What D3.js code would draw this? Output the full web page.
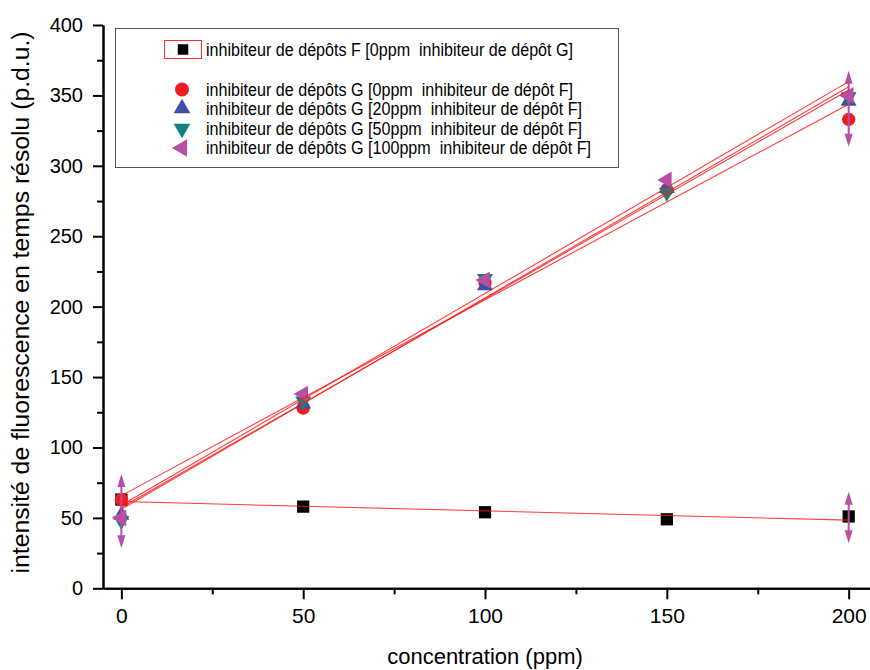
<!DOCTYPE html>
<html><head><meta charset="utf-8">
<script src="https://cdn.jsdelivr.net/npm/d3@7"></script>
<style>body{margin:0;background:#fff} text{font-family:Arial,"Liberation Sans",sans-serif;fill:#000}</style>
</head><body><svg id="c" width="870" height="670"></svg>
<script>
// ---- data ----
const concentrations = [0, 50, 100, 150, 200];
const fValues   = [63, 58, 54, 49, 51];
const g0Values  = [63, 128, 217, 283, 333];
const g20Values = [52, 131, 215, 284, 346];
const g50Values = [48, 133, 220, 281, 349];
const g100Values= [50, 138, 219, 290, 350];
const seriesLabels = [
  "inhibiteur de dépôts F [0ppm  inhibiteur de dépôt G]",
  "inhibiteur de dépôts G [0ppm  inhibiteur de dépôt F]",
  "inhibiteur de dépôts G [20ppm  inhibiteur de dépôt F]",
  "inhibiteur de dépôts G [50ppm  inhibiteur de dépôt F]",
  "inhibiteur de dépôts G [100ppm  inhibiteur de dépôt F]"
];
const errX    = [0, 200, 200];
const errMid  = [54.8, 340.5, 50.3];
const errHalf = [26.4, 27, 18.3];
const xMajorTicks = [0, 50, 100, 150, 200];
const xMinorTicks = [25, 75, 125, 175];
const yMajorTicks = [0, 50, 100, 150, 200, 250, 300, 350, 400];
const yMinorTicks = [25, 75, 125, 175, 225, 275, 325, 375];
const xTitle = "concentration (ppm)";
const yTitle = "intensité de fluorescence en temps résolu (p.d.u.)";

const series = [
  {vals: fValues,   color: "#000000", shape: "square"},
  {vals: g0Values,  color: "#ee1d23", shape: "circle"},
  {vals: g20Values, color: "#3c4fa3", shape: "up"},
  {vals: g50Values, color: "#12807c", shape: "down"},
  {vals: g100Values,color: "#b84fa6", shape: "left"}
];

const svg = d3.select("#c");
const x = d3.scaleLinear().domain([-5.05, 210]).range([103, 103 + 215.05 * 3.6365]);
const y = d3.scaleLinear().domain([0, 400]).range([588.3, 25]);

// axes
const xAxis = svg.append("g").attr("transform", `translate(0,${y(0)})`)
  .call(d3.axisBottom(x).tickValues(xMajorTicks).tickSize(11).tickSizeOuter(0).tickPadding(9).tickFormat(d3.format("d")));
svg.append("g").attr("transform", `translate(0,${y(0)})`)
  .call(d3.axisBottom(x).tickValues(xMinorTicks).tickSize(6).tickSizeOuter(0).tickFormat(""));
const yAxis = svg.append("g").attr("transform", `translate(${x(-5.05)},0)`)
  .call(d3.axisLeft(y).tickValues(yMajorTicks).tickSize(10).tickSizeOuter(0).tickPadding(10).tickFormat(d3.format("d")));
svg.append("g").attr("transform", `translate(${x(-5.05)},0)`)
  .call(d3.axisLeft(y).tickValues(yMinorTicks).tickSize(6).tickSizeOuter(0).tickFormat(""));
svg.selectAll(".domain, .tick line").attr("stroke", "#000").attr("stroke-width", 2);
xAxis.selectAll(".tick text").style("font-size", "21px");
yAxis.selectAll(".tick text").style("font-size", "20px");

svg.append("text").attr("x", x(100)).attr("y", 664).attr("text-anchor", "middle")
  .style("font-size", "22px").text(xTitle);
svg.append("text").attr("transform", `translate(29,${y(203)}) rotate(-90)`).attr("text-anchor", "middle")
  .attr("textLength", 542).attr("lengthAdjust", "spacingAndGlyphs")
  .style("font-size", "23px").text(yTitle);

// symbols
function symPath(shape, size) {
  if (shape === "square") return d3.symbol(d3.symbolSquare, size)();
  if (shape === "circle") return d3.symbol(d3.symbolCircle, size)();
  return d3.symbol(d3.symbolTriangle, size)();
}
function symRot(shape) { return shape === "down" ? 180 : shape === "left" ? -90 : 0; }
const sizes = {square: 150, circle: 140, up: 110, down: 110, left: 120};

series.forEach(s => {
  svg.append("g").selectAll("path").data(s.vals).join("path")
    .attr("d", symPath(s.shape, sizes[s.shape]))
    .attr("transform", (v, i) => `translate(${x(concentrations[i])},${y(v)}) rotate(${symRot(s.shape)})`)
    .attr("fill", s.color);
});

// error bars (magenta, arrow caps)
const eg = svg.append("g").attr("fill", "#b84fa6").attr("stroke", "#b84fa6");
errX.forEach((xv, i) => {
  const cx = x(xv), yt = y(errMid[i] + errHalf[i]), yb = y(errMid[i] - errHalf[i]);
  eg.append("line").attr("x1", cx).attr("x2", cx).attr("y1", yt + 4).attr("y2", yb - 4).attr("stroke-width", 2);
  eg.append("path").attr("stroke", "none").attr("d", `M${cx},${yt} L${cx - 4},${yt + 13} L${cx + 4},${yt + 13}Z`);
  eg.append("path").attr("stroke", "none").attr("d", `M${cx},${yb} L${cx - 4},${yb - 13} L${cx + 4},${yb - 13}Z`);
});

// linear fits
function fit(vals) {
  const mx = d3.mean(concentrations), my = d3.mean(vals);
  const b = d3.sum(concentrations, (c, i) => (c - mx) * (vals[i] - my)) / d3.sum(concentrations, c => (c - mx) ** 2);
  return {b, a: my - b * mx};
}
series.forEach(s => {
  const f = fit(s.vals);
  svg.append("line")
    .attr("x1", x(0)).attr("y1", y(f.a))
    .attr("x2", x(200)).attr("y2", y(f.a + f.b * 200))
    .attr("stroke", "#ff1a1a").attr("stroke-opacity", 0.85).attr("stroke-width", 1.1);
});

// legend
const lg = svg.append("g");
lg.append("rect").attr("x", 115.5).attr("y", 28.5).attr("width", 503).attr("height", 139)
  .attr("fill", "#fff").attr("stroke", "#555").attr("stroke-width", 1);
const legY = [49.5, 89.5, 108.5, 128.5, 148];
const legW = [367, 367, 376, 376, 385];
lg.append("rect").attr("x", 164.5).attr("y", 40.5).attr("width", 37).attr("height", 18)
  .attr("fill", "none").attr("stroke", "#ee3030").attr("stroke-width", 1);
series.forEach((s, i) => {
  lg.append("path").attr("d", symPath(s.shape, i === 0 ? 110 : sizes[s.shape] * 1.1))
    .attr("transform", `translate(${i === 0 ? 183 : 182},${legY[i]}) rotate(${symRot(s.shape)})`)
    .attr("fill", s.color);
  lg.append("text").attr("x", 206).attr("y", legY[i]).attr("dy", "0.36em")
    .attr("textLength", legW[i]).attr("lengthAdjust", "spacingAndGlyphs")
    .style("font-size", "17.5px").style("white-space", "pre").text(seriesLabels[i]);
});
</script></body></html>
